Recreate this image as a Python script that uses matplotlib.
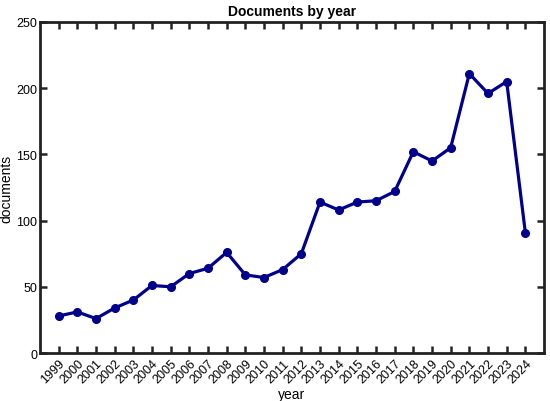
import matplotlib
matplotlib.use("Agg")
import matplotlib.pyplot as plt

years = [str(y) for y in range(1999, 2025)]
documents = [28, 31, 26, 34, 40, 51, 50, 60, 64, 76, 59, 57, 63, 75,
             114, 108, 114, 115, 122, 152, 145, 155, 211, 196, 205, 91]
yticks = [0, 50, 100, 150, 200, 250]

plt.rcParams['font.family'] = ['Liberation Sans', 'DejaVu Sans']

fig = plt.figure(figsize=(5.5, 4.02), dpi=100)
ax = fig.add_axes([0.0727, 0.1194, 0.9164, 0.8234])
x = list(range(1, len(years) + 1))
ax.plot(x, documents, color='#00008B', linewidth=2.3, marker='o', markersize=5.5)
ax.set_xlim(0, len(years) + 1)
ax.set_ylim(0, 250)
ax.set_xticks(x)
ax.set_xticklabels(years, rotation=45, ha='right', rotation_mode='anchor', fontsize=9)
ax.set_yticks(yticks)
ax.set_yticklabels([str(v) for v in yticks], fontsize=9)
ax.tick_params(direction='in', length=5, width=1.8, top=True, right=True, pad=2,
               color='#222222')
ax.tick_params(axis='x', pad=3)
for s in ax.spines.values():
    s.set_linewidth(2.0)
    s.set_color('#222222')
ax.set_xlabel('year', fontsize=10, labelpad=1)
ax.set_ylabel('documents', fontsize=10, labelpad=2)
ax.set_title('Documents by year', fontsize=10, fontweight='bold', pad=5)
fig.savefig('out.png', dpi=100)
